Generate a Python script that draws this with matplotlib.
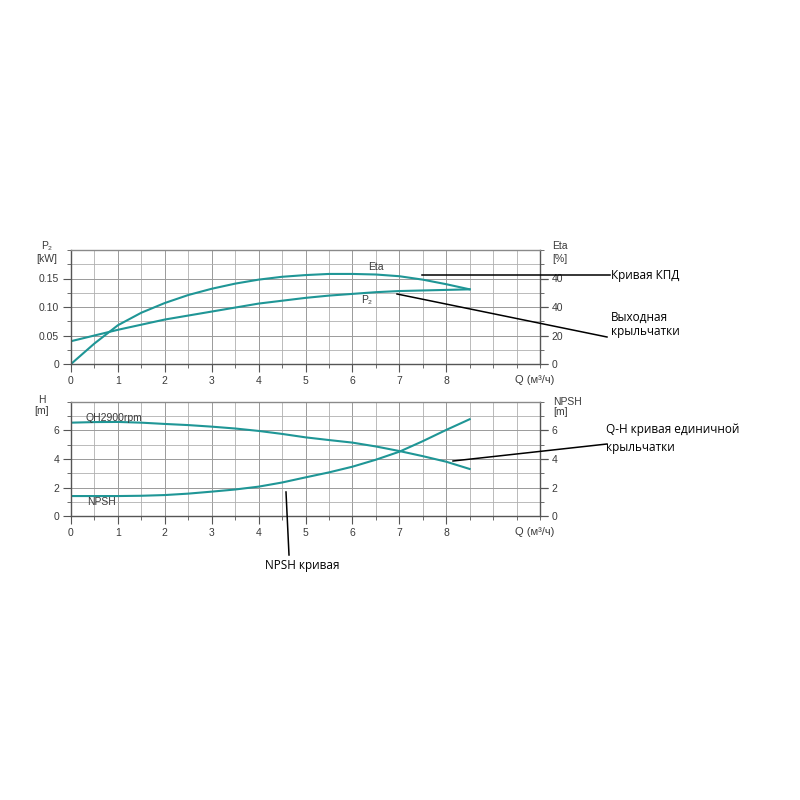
import numpy as np
import matplotlib.pyplot as plt
from matplotlib.lines import Line2D

# Data
q = [0, 0.5, 1, 1.5, 2, 2.5, 3, 3.5, 4, 4.5, 5, 5.5, 6, 6.5, 7, 7.5, 8, 8.5]
eta = [0, 0.036, 0.068, 0.090, 0.107, 0.121, 0.132, 0.141, 0.148, 0.153,
       0.156, 0.158, 0.158, 0.157, 0.154, 0.148, 0.140, 0.131]
p2 = [0.040, 0.050, 0.060, 0.069, 0.078, 0.085, 0.092, 0.099, 0.106, 0.111,
      0.116, 0.120, 0.123, 0.126, 0.128, 0.129, 0.130, 0.131]
head = [6.55, 6.59, 6.60, 6.55, 6.46, 6.38, 6.27, 6.14, 5.97, 5.76,
        5.52, 5.33, 5.15, 4.88, 4.56, 4.20, 3.81, 3.30]
npsh = [1.40, 1.40, 1.40, 1.42, 1.47, 1.57, 1.71, 1.86, 2.06, 2.35,
        2.71, 3.06, 3.46, 3.95, 4.51, 5.25, 6.04, 6.79]

x_ticks = [0, 1, 2, 3, 4, 5, 6, 7, 8]
p2_ticks = [0, 0.05, 0.10, 0.15]
p2_labels = ['0', '0.05', '0.10', '0.15']
eta_labels = ['0', '20', '40', '40']
h_ticks = [0, 2, 4, 6]

teal = '#1f9696'
txt = '#3a3a3a'
fam = ['Liberation Sans', 'DejaVu Sans']
plt.rcParams['font.family'] = fam

fig = plt.figure(figsize=(8, 8), dpi=100)
W = H = 800.0

def fx(px):
    return px / W

def fy(py):
    return 1 - py / H

ax1 = fig.add_axes([fx(71), fy(364), fx(540) - fx(71), fy(250) - fy(364)])
ax2 = fig.add_axes([fx(71), fy(516), fx(540) - fx(71), fy(402) - fy(516)])


def style(ax, ymax, ystep, yticks, ylabels, rlabels):
    ax.set_xlim(0, 10)
    ax.set_ylim(0, ymax)
    ax.set_xticks(x_ticks)
    ax.set_xticks(np.arange(0, 10.01, 0.5), minor=True)
    ax.set_yticks(yticks)
    ax.set_yticklabels(ylabels)
    ax.set_yticks(np.arange(0, ymax + 1e-9, ystep), minor=True)
    ax.grid(True, which='major', color='#9a9a9a', lw=0.7)
    ax.grid(True, which='minor', color='#b0b0b0', lw=0.6)
    ax.tick_params(which='both', direction='out', color='#555555', labelsize=7.5,
                   labelcolor=txt, right=True, pad=3)
    ax.tick_params(which='major', length=5.5)
    ax.tick_params(which='minor', length=3)
    ax.tick_params(axis='y', which='both', labelright=False)
    for s in ax.spines.values():
        s.set_color('#555555')
        s.set_linewidth(1.0)
    ax.spines['top'].set_color('#8a8a8a')
    rax = ax.secondary_yaxis('right')
    rax.set_yticks(yticks)
    rax.set_yticklabels(rlabels)
    rax.tick_params(direction='out', length=5.5, color='#555555', labelsize=7.5,
                    labelcolor=txt, pad=3)
    rax.spines['right'].set_visible(False)
    ax.text(9.88, -0.14, 'Q (м³/ч)', transform=ax.get_xaxis_transform(),
            ha='center', va='center', fontsize=8, color=txt)


style(ax1, 0.2, 0.025, p2_ticks, p2_labels, eta_labels)
style(ax2, 8, 1, h_ticks, [str(v) for v in h_ticks], [str(v) for v in h_ticks])

ax1.plot(q, eta, color=teal, lw=1.5)
ax1.plot(q, p2, color=teal, lw=1.5)
ax2.plot(q, head, color=teal, lw=1.5)
ax2.plot(q, npsh, color=teal, lw=1.5)

ax1.text(6.5, 0.170, 'Eta', fontsize=7.5, color=txt, ha='center', va='center')
ax1.text(6.3, 0.113, 'P₂', fontsize=7.5, color=txt, ha='center', va='center')
ax2.text(0.3, 6.85, 'QH2900rpm', fontsize=7.5, color=txt, ha='left', va='center')
ax2.text(0.35, 0.95, 'NPSH', fontsize=7.5, color=txt, ha='left', va='center')

# axis titles
for x, y, s in [(47, 246, 'P₂'), (47, 259, '[kW]'),
                (560, 246, 'Eta'), (560, 259, '[%]'),
                (42, 400, 'H'), (42, 411, '[m]'),
                (567, 402, 'NPSH'), (561, 412, '[m]')]:
    fig.text(fx(x), fy(y), s, ha='center', va='center', fontsize=7.5, color=txt)

# callouts
for x0, y0, x1, y1 in [(422, 275, 610, 275), (397, 294, 607, 337),
                       (453, 461, 607, 444), (286, 492, 289, 555)]:
    fig.add_artist(Line2D([fx(x0), fx(x1)], [fy(y0), fy(y1)], color='black',
                          lw=1.1, transform=fig.transFigure))

ann = dict(fontsize=8.5, color='black', family=['Open Sans', 'DejaVu Sans'],
           va='center', ha='left')
fig.text(fx(611), fy(275), 'Кривая КПД', **ann)
fig.text(fx(611), fy(317), 'Выходная', **ann)
fig.text(fx(611), fy(332), 'крыльчатки', **ann)
fig.text(fx(606), fy(430), 'Q-H кривая единичной', **ann)
fig.text(fx(606), fy(447), 'крыльчатки', **ann)
fig.text(fx(265), fy(566), 'NPSH кривая', **ann)

fig.savefig('out.png', dpi=100)
